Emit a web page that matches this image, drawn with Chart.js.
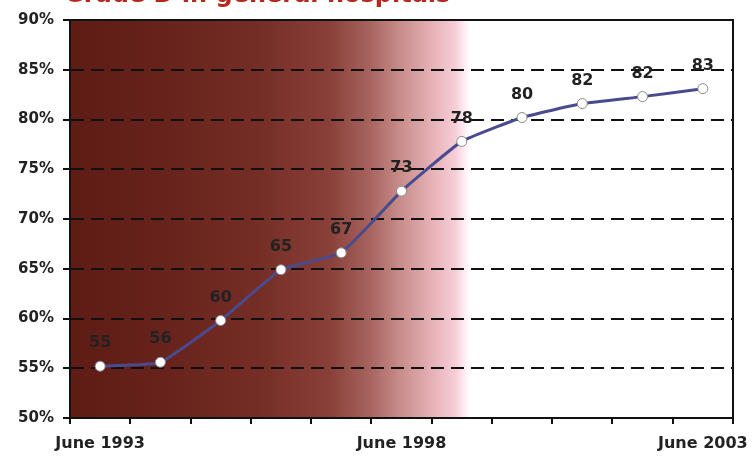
<!DOCTYPE html>
<html>
<head>
<meta charset="utf-8">
<script src="https://cdn.jsdelivr.net/npm/chart.js"></script>
<style>
    body { margin: 0; background: #ffffff; }
    #wrap { width: 756px; height: 456px; position: relative; }
</style>
</head>
<body>
<div id="wrap"><canvas id="gradeChart" width="756" height="456"></canvas></div>
<script>
// Chart data
const categories = ['June 1993', '', '', '', '', 'June 1998', '', '', '', '', 'June 2003'];
const percentValues = [55.2, 55.6, 59.8, 64.9, 66.6, 72.8, 77.8, 80.2, 81.6, 82.3, 83.1];
const pointLabels = ['55', '56', '60', '65', '67', '73', '78', '80', '82', '82', '83'];
const yTicks = [50, 55, 60, 65, 70, 75, 80, 85, 90];
const chartTitle = 'Grade D in general hospitals';

// Shaded background, title, frame and point labels
const decorPlugin = {
    id: 'decor',
    beforeDraw: function(chart) {
        var ctx = chart.ctx;
        var a = chart.chartArea;
        var g = ctx.createLinearGradient(a.left, 0, a.right, 0);
        var w = a.right - a.left;
        var stops = [
            [0, 'rgb(94,28,22)'],
            [90, 'rgb(102,34,27)'],
            [190, 'rgb(117,46,38)'],
            [260, 'rgb(137,64,57)'],
            [300, 'rgb(167,100,95)'],
            [330, 'rgb(200,140,138)'],
            [360, 'rgb(228,175,180)'],
            [385, 'rgb(246,205,214)'],
            [395, 'rgb(255,238,245)'],
            [400, 'rgb(255,255,255)']
        ];
        stops.forEach(function(s) { g.addColorStop(s[0] / w, s[1]); });
        ctx.save();
        ctx.fillStyle = g;
        ctx.fillRect(a.left, a.top, w, a.bottom - a.top);
        // title, mostly cut off by the top edge
        ctx.fillStyle = '#b8261c';
        ctx.font = 'bold 24px "DejaVu Sans"';
        ctx.textAlign = 'left';
        ctx.textBaseline = 'alphabetic';
        ctx.fillText(chartTitle, 64, 2);
        ctx.restore();
    },
    afterDraw: function(chart) {
        var ctx = chart.ctx;
        var a = chart.chartArea;
        ctx.save();
        ctx.strokeStyle = '#111111';
        ctx.lineWidth = 2;
        ctx.beginPath();
        ctx.moveTo(a.left, a.top);
        ctx.lineTo(a.right, a.top);
        ctx.lineTo(a.right, a.bottom);
        ctx.stroke();
        var meta = chart.getDatasetMeta(0);
        ctx.fillStyle = '#222222';
        ctx.font = 'bold 16px "DejaVu Sans"';
        ctx.textAlign = 'center';
        ctx.textBaseline = 'middle';
        meta.data.forEach(function(pt, i) {
            ctx.fillText(pointLabels[i], pt.x, pt.y - 23);
        });
        ctx.restore();
    }
};

const ctx = document.getElementById('gradeChart').getContext('2d');
const gradeChart = new Chart(ctx, {
    type: 'line',
    data: {
        labels: categories,
        datasets: [{
            data: percentValues,
            borderColor: '#4a4a8e',
            borderWidth: 3,
            pointRadius: 5,
            pointBackgroundColor: '#ffffff',
            pointBorderColor: '#8a8a8a',
            pointBorderWidth: 1,
            tension: 0.12,
            fill: false
        }]
    },
    options: {
        responsive: false,
        animation: false,
        events: [],
        layout: { padding: { left: 0, right: 23, top: 20, bottom: 0 } },
        plugins: {
            legend: { display: false },
            tooltip: { enabled: false },
            title: { display: false }
        },
        scales: {
            x: {
                offset: true,
                grid: {
                    offset: true,
                    drawOnChartArea: false,
                    color: '#111111',
                    lineWidth: 2,
                    tickLength: 6
                },
                border: { color: '#111111', width: 2 },
                ticks: {
                    autoSkip: false,
                    maxRotation: 0,
                    color: '#222222',
                    font: { family: 'DejaVu Sans', size: 16, weight: 'bold' },
                    padding: 10
                },
                afterFit: function(scale) {
                    scale.height = 38;
                    scale.paddingLeft = 0;
                    scale.paddingRight = 0;
                }
            },
            y: {
                min: 50,
                max: 90,
                afterBuildTicks: function(scale) {
                    scale.ticks = yTicks.map(function(v) { return { value: v }; });
                },
                grid: {
                    color: '#111111',
                    lineWidth: 2,
                    tickLength: 7,
                    tickColor: '#111111'
                },
                border: { color: '#111111', width: 2, dash: [13, 7] },
                ticks: {
                    callback: function(v) { return v + '%'; },
                    color: '#222222',
                    font: { family: 'DejaVu Sans', size: 15, weight: 'bold' },
                    padding: 9
                },
                afterFit: function(scale) {
                    scale.width = 70;
                    scale.paddingTop = 0;
                    scale.paddingBottom = 0;
                }
            }
        }
    },
    plugins: [decorPlugin]
});
</script>
</body>
</html>
